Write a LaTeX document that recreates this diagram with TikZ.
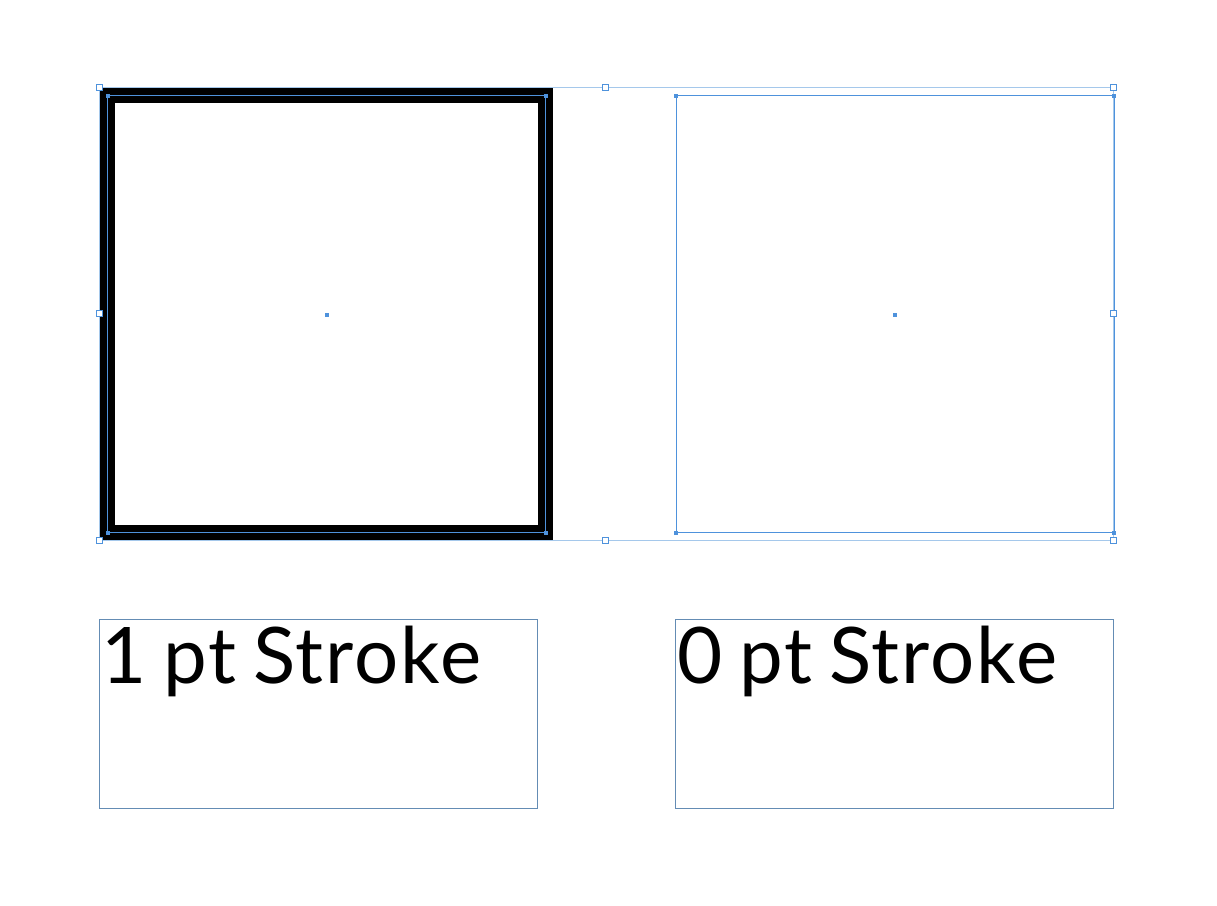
\documentclass[tikz,border=0pt]{standalone}
\usepackage{fontspec}
\setmainfont{Lato}
\newfontfamily\labfont[LetterSpace=2.6,WordSpace=0.76]{Lato}
\definecolor{selblue}{RGB}{78,146,220}
\definecolor{bboxblue}{RGB}{165,200,235}
\definecolor{frameblue}{RGB}{100,140,180}
\tikzset{
  hollowhandle/.style={draw=selblue,fill=white,line width=0.9pt,minimum size=6pt,inner sep=0pt,outer sep=0pt},
  filledhandle/.style={fill=selblue,minimum size=5pt,inner sep=0pt,outer sep=0pt},
  pathline/.style={draw=selblue,line width=1pt},
  boundline/.style={draw=bboxblue,line width=1pt},
  textframe/.style={draw=frameblue,line width=1pt,minimum width=438pt,minimum height=189pt,inner sep=0pt,outer sep=0pt,anchor=north west},
  labeltext/.style={font=\labfont\fontsize{78}{80}\selectfont,inner sep=0pt,anchor=base west}
}
\begin{document}
\begin{tikzpicture}[x=1pt,y=-1pt]
\useasboundingbox[fill=white] (0,0) rectangle (1217,905);
% group bounding box
\draw[boundline] (99,87) rectangle (1113,540);
% left square with thick stroke
\draw[line width=15pt,black] (107.5,95.5) rectangle (545.5,532.5);
\draw[pathline] (107.5,95.5) rectangle (545.5,532.5);
\draw[boundline] (99,87) -- (99,540);
% right square with no stroke (path only)
\draw[pathline] (676,95.5) rectangle (1114,532.5);
% filled corner handles
\foreach \n/\p in {a/{(107.5,95.5)},b/{(545.5,95.5)},c/{(107.5,532.5)},d/{(545.5,532.5)},e/{(676,95.5)},f/{(1114,95.5)},g/{(676,532.5)},h/{(1114,532.5)}}
  \node[filledhandle,minimum size=4pt] (f\n) at \p {};
% centre points
\node[filledhandle,minimum size=4pt] (cl) at (327,315) {};
\node[filledhandle,minimum size=4pt] (cr) at (894.5,315) {};
% hollow bounding-box handles
\foreach \n/\p in {a/{(99,87)},b/{(605.5,87)},c/{(1113,87)},d/{(99,313.5)},e/{(1113,313.5)},f/{(99,540)},g/{(605.5,540)},h/{(1113,540)}}
  \node[hollowhandle] (h\n) at \p {};
% text frames
\node[textframe] (tl) at (99,619) {};
\node[textframe] (tr) at (675,619) {};
\node[labeltext] (lt) at ([shift={(2,64)}]tl.north west) {1 pt Stroke};
\node[labeltext] (rt) at ([shift={(2,64)}]tr.north west) {0 pt Stroke};
\end{tikzpicture}
\end{document}
